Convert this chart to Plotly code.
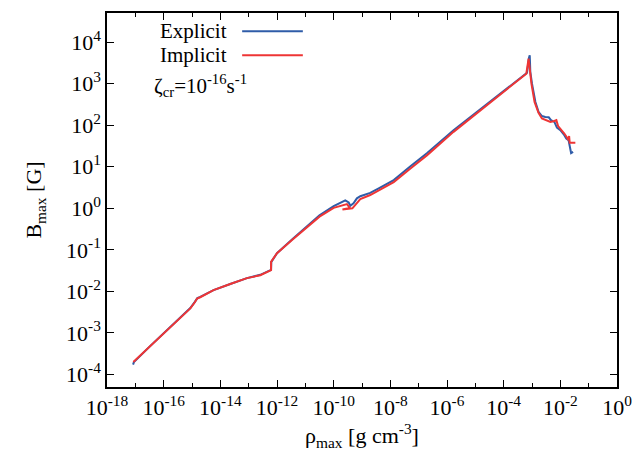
import numpy as np
import plotly.graph_objects as go

# log10 of maximum density [g cm^-3] and maximum field [G] along each run
log_rho_explicit = [-17.08, -17.05, -16.47, -16.00, -15.41, -15.06, -14.90, -14.81, -14.71, -14.24,
                    -13.65, -13.06, -12.59, -12.30, -12.21, -12.20, -12.00, -11.47, -11.00, -10.50,
                    -10.00, -9.77, -9.59, -9.47, -9.41, -9.30, -9.18, -9.06, -8.71, -8.41,
                    -7.88, -7.29, -6.70, -5.77, -4.82, -3.175, -3.11, -3.08, -3.07, -3.06,
                    -3.00, -2.88, -2.77, -2.65, -2.53, -2.41, -2.33, -2.21, -2.12, -2.00,
                    -1.88, -1.79, -1.71, -1.67, -1.62, -1.55]
log_B_explicit = [-3.76, -3.70, -3.31, -3.00, -2.63, -2.40, -2.25, -2.16, -2.13, -1.97,
                  -1.82, -1.68, -1.60, -1.52, -1.48, -1.29, -1.08, -0.75, -0.46, -0.17,
                  0.05, 0.13, 0.19, 0.14, 0.06, 0.12, 0.24, 0.29, 0.37, 0.48,
                  0.68, 1.01, 1.33, 1.88, 2.38, 3.26, 3.61, 3.68, 3.50, 3.28,
                  3.00, 2.56, 2.32, 2.22, 2.20, 2.19, 2.12, 2.08, 1.94, 1.88,
                  1.78, 1.68, 1.64, 1.48, 1.33, 1.36]

log_rho_implicit = [-17.07, -16.47, -16.00, -15.41, -15.06, -14.90, -14.82, -14.71, -14.24, -13.65,
                    -13.06, -12.59, -12.30, -12.21, -12.21, -12.00, -11.47, -11.00, -10.50, -10.00,
                    -9.77, -9.53, -9.43, -9.69, -9.34, -9.18, -9.06, -8.71, -8.41, -7.88,
                    -7.29, -6.70, -5.77, -4.82, -3.20, -3.12, -3.08, -3.02, -2.91, -2.77,
                    -2.65, -2.53, -2.35, -2.21, -2.14, -2.08, -1.97, -1.86, -1.76, -1.72,
                    -1.69, -1.67, -1.59, -1.47]
log_B_implicit = [-3.70, -3.31, -3.00, -2.64, -2.41, -2.26, -2.17, -2.14, -1.97, -1.82,
                  -1.68, -1.61, -1.53, -1.49, -1.29, -1.08, -0.76, -0.48, -0.20, 0.01,
                  0.06, 0.10, 0.01, -0.03, 0.00, 0.13, 0.22, 0.32, 0.43, 0.63,
                  0.96, 1.28, 1.84, 2.35, 3.24, 3.60, 3.28, 3.00, 2.56, 2.30,
                  2.16, 2.12, 2.08, 2.10, 2.12, 1.98, 1.90, 1.80, 1.70, 1.64,
                  1.74, 1.58, 1.58, 1.58]

x_major = [-18, -16, -14, -12, -10, -8, -6, -4, -2, 0]
x_minor = [-17, -15, -13, -11, -9, -7, -5, -3, -1]
y_major = [-4, -3, -2, -1, 0, 1, 2, 3, 4]

BLUE = "#2f5ca8"
RED = "#ee3535"
FONT = "Liberation Serif"

fig = go.Figure()
fig.add_trace(go.Scatter(x=np.power(10.0, log_rho_explicit), y=np.power(10.0, log_B_explicit),
                         mode="lines", line=dict(color=BLUE, width=2), name="Explicit"))
fig.add_trace(go.Scatter(x=np.power(10.0, log_rho_implicit), y=np.power(10.0, log_B_implicit),
                         mode="lines", line=dict(color=RED, width=2), name="Implicit"))

def pow_label(e):
    return "10<sup>%d</sup>" % e

axis_common = dict(type="log", showgrid=False, zeroline=False, showline=True,
                   linecolor="black", linewidth=1.5, mirror="ticks", ticks="inside",
                   ticklen=7, tickwidth=1, tickcolor="black",
                   tickfont=dict(family=FONT, size=22, color="black"))

fig.update_xaxes(**axis_common, range=[-18, 0],
                 tickvals=[10.0 ** e for e in x_major], ticktext=[pow_label(e) for e in x_major],
                 minor=dict(tickvals=[10.0 ** e for e in x_minor], ticks="inside", ticklen=4,
                            tickcolor="black", tickwidth=1),
                 title=dict(text="ρ<sub>max</sub> [g cm<sup>-3</sup>]",
                            font=dict(family=FONT, size=22, color="black"), standoff=8))
fig.update_yaxes(**axis_common, range=[-4.3, 4.7],
                 tickvals=[10.0 ** e for e in y_major], ticktext=[pow_label(e) for e in y_major],
                 title=dict(text="B<sub>max</sub> [G]",
                            font=dict(family=FONT, size=22, color="black"), standoff=18))

# key: label text on the left, line sample on the right
key_font = dict(family=FONT, size=21, color="black")
for label, color, yk in [("Explicit", BLUE, 0.951), ("Implicit", RED, 0.887)]:
    fig.add_annotation(x=0.237, y=yk, xref="paper", yref="paper", text=label, showarrow=False,
                       xanchor="right", yanchor="middle", font=key_font, borderpad=0)
    fig.add_shape(type="line", xref="paper", yref="paper", x0=0.265, x1=0.384, y0=yk, y1=yk,
                  line=dict(color=color, width=2))
fig.add_annotation(x=0.09, y=0.805, xref="paper", yref="paper",
                   text="ζ<sub>cr</sub>=10<sup>-16</sup>s<sup>-1</sup>", showarrow=False,
                   xanchor="left", yanchor="middle", font=key_font, borderpad=0)

fig.update_layout(width=644, height=458, showlegend=False,
                  margin=dict(l=107, r=27, t=13, b=71),
                  paper_bgcolor="white", plot_bgcolor="white")

fig.write_html("out.html")
